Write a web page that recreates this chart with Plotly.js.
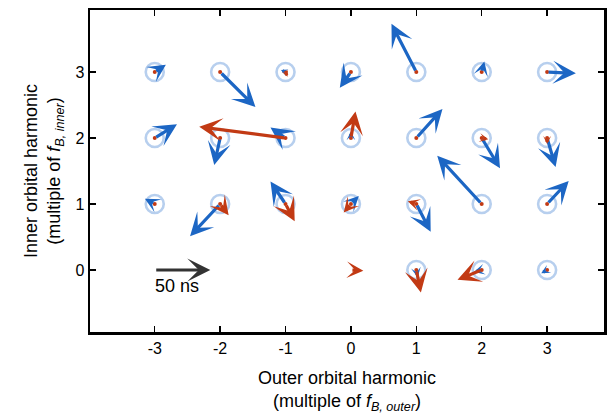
<!DOCTYPE html>
<html>
<head>
<meta charset="utf-8">
<script src="https://cdn.plot.ly/plotly-3.0.1.min.js"></script>
<style>html,body{margin:0;padding:0;background:#fff;}#chart{width:607px;height:414px;}</style>
</head>
<body>
<div id="chart"></div>
<script>
// Grid positions (outer harmonic, inner harmonic)
const gridX = [-3,-2,-1,0,1,2,3, -3,-2,-1,0,1,2,3, -3,-2,-1,0,1,2,3, 0,1,2,3];
const gridY = [ 3, 3, 3,3,3,3,3,  2, 2, 2,2,2,2,2,  1, 1, 1,1,1,1,1, 0,0,0,0];
// Whether a circle is drawn at each grid point
const hasCircle = [1,1,1,1,1,1,1, 1,1,1,1,1,1,1, 1,1,1,1,1,1,1, 0,1,1,1];
// Blue arrow components (data units)
const blueDX = [0.17, 0.54,-0.07,-0.17,-0.38, 0.04, 0.44,  0.34,-0.09,-0.23, 0.00, 0.40, 0.28, 0.13, -0.15,-0.46,-0.23, 0.12, 0.22,-0.68, 0.33, null, 0.02,-0.12,-0.09];
const blueDY = [0.11,-0.53, 0.03,-0.24, 0.73, 0.16,-0.02,  0.21,-0.41, 0.16, 0.10, 0.44,-0.46,-0.44,  0.08,-0.49, 0.34, 0.12,-0.42, 0.73, 0.35, null,-0.11,-0.03,-0.05];
// Red arrow components (data units)
const redDX = [-0.02, 0.00, 0.03, 0.00, 0.00, 0.00, 0.00,  0.00,-0.03,-1.32, 0.07, 0.00, 0.10, 0.00,  0.00, 0.13, 0.14,-0.11,-0.13, 0.00, 0.00, 0.19, 0.07,-0.37, 0.01];
const redDY = [ 0.01, 0.00,-0.07, 0.00, 0.00, 0.00, 0.00,  0.00, 0.05, 0.17, 0.40, 0.00,-0.02,-0.09,  0.00,-0.17,-0.26,-0.13, 0.04, 0.05, 0.00,-0.01,-0.34,-0.15, 0.06];
// Scale arrow
const scaleX = -3, scaleY = 0, scaleDX = 0.85;
const scaleLabel = "50 ns";

const BLUE = "#1c66c4", RED = "#c23a14", RING = "#b7cfee";
const pxX = 65.7, pxY = 66;
const HEAD = 1.2, WIDTH = 3.2;

function arrows(dx, dy, color) {
  const out = [];
  for (let i = 0; i < gridX.length; i++) {
    if (dx[i] === null) continue;
    const L = Math.hypot(dx[i]*pxX, dy[i]*pxY);
    if (L < 2.5) continue;
    const s = Math.min(HEAD, L / (4.5 * WIDTH));
    out.push({
      x: gridX[i] + dx[i], y: gridY[i] + dy[i],
      ax: gridX[i], ay: gridY[i], axref: 'x', ayref: 'y', xref: 'x', yref: 'y',
      text: '', showarrow: true, arrowhead: 3, arrowsize: s, arrowwidth: WIDTH,
      arrowcolor: color, standoff: 0, startstandoff: 0
    });
  }
  return out;
}

const cx = [], cy = [];
gridX.forEach((v, i) => { if (hasCircle[i]) { cx.push(v); cy.push(gridY[i]); } });

const traces = [
  { x: cx, y: cy, mode: 'markers', type: 'scatter', hoverinfo: 'skip',
    marker: { symbol: 'circle-open', size: 18, color: RING, line: { width: 2.6, color: RING } } },
  { x: cx, y: cy, mode: 'markers', type: 'scatter', hoverinfo: 'skip',
    marker: { symbol: 'circle', size: 4, color: RED } }
];

const annotations = [].concat(arrows(blueDX, blueDY, BLUE), arrows(redDX, redDY, RED));
annotations.push({
  x: scaleX + scaleDX, y: scaleY, ax: scaleX, ay: scaleY, axref: 'x', ayref: 'y', xref: 'x', yref: 'y',
  text: '', showarrow: true, arrowhead: 3, arrowsize: HEAD, arrowwidth: WIDTH, arrowcolor: '#333333', standoff: 0
});
annotations.push({
  x: scaleX, y: scaleY - 0.24, xref: 'x', yref: 'y', text: scaleLabel, showarrow: false,
  xanchor: 'left', yanchor: 'middle', xshift: -2, font: { family: 'Liberation Sans, Arial, sans-serif', size: 18, color: '#000' }
});

const axisCommon = {
  showgrid: false, zeroline: false, showline: true, linecolor: '#000', linewidth: 2.5,
  mirror: 'ticks', ticks: 'inside', ticklen: 6, tickwidth: 1.3, tickcolor: '#000',
  tickfont: { family: 'Liberation Sans, Arial, sans-serif', size: 16, color: '#000' }
};

const layout = {
  width: 607, height: 414,
  margin: { l: 90, r: 3, t: 10, b: 82 },
  paper_bgcolor: '#fff', plot_bgcolor: '#fff',
  showlegend: false,
  font: { family: 'Liberation Sans, Arial, sans-serif', size: 16, color: '#000' },
  xaxis: Object.assign({}, axisCommon, {
    range: [-3.99, 3.87], tickvals: [-3,-2,-1,0,1,2,3], ticktext: ['-3','-2','-1','0','1','2','3'],
    title: { text: 'Outer orbital harmonic<br>(multiple of <i>f</i><sub><i>B, outer</i></sub>)', standoff: 18,
             font: { size: 18 } }
  }),
  yaxis: Object.assign({}, axisCommon, {
    range: [-0.94, 3.94], tickvals: [0,1,2,3], ticktext: ['0','1','2','3'],
    title: { text: 'Inner orbital harmonic<br>(multiple of <i>f</i><sub><i>B, inner</i></sub>)', standoff: 10,
             font: { size: 18 } }
  }),
  annotations: annotations
};

Plotly.newPlot('chart', traces, layout, { staticPlot: true, displayModeBar: false });
</script>
</body>
</html>
